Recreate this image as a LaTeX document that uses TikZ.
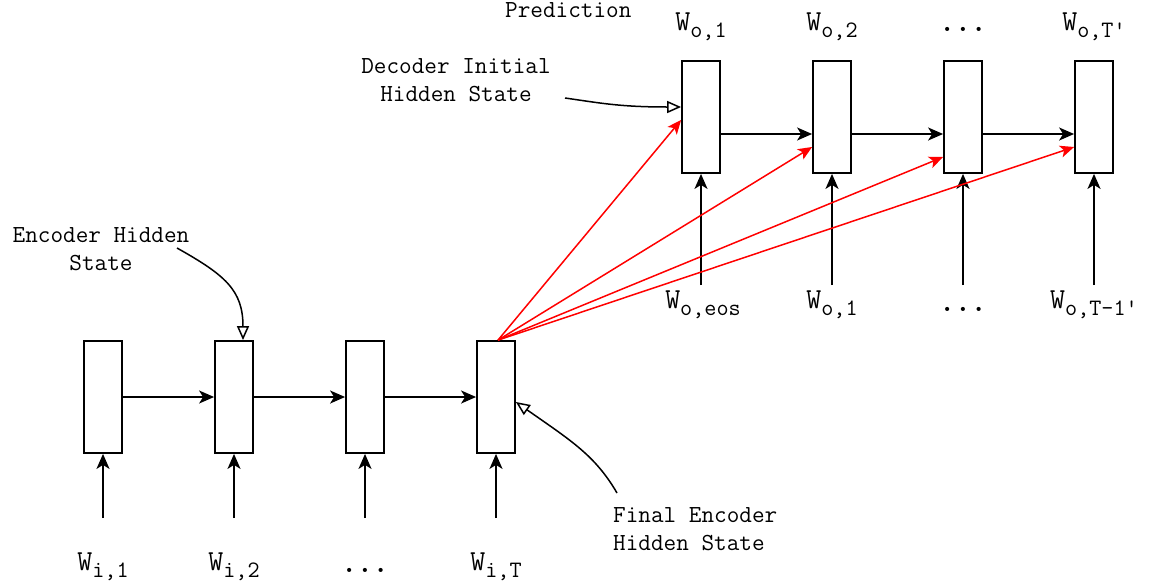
\documentclass[tikz,border=0pt]{standalone}
\usetikzlibrary{arrows.meta}
\newcommand\Wlab[1]{{\fontsize{29}{30}\selectfont W}\raisebox{-7pt}{\fontsize{23.5}{24}\selectfont #1}}
\begin{document}
\begin{tikzpicture}[x=1pt,y=-1pt, font=\ttfamily,
 cell/.style={draw, line width=1.8pt, minimum width=38pt, minimum height=112pt, inner sep=0pt, fill=white},
 flow/.style={line width=1.8pt, -{Stealth[length=15pt,width=13pt,inset=4pt]}},
 attn/.style={red, line width=1.5pt, -{Stealth[length=14pt,width=12pt,inset=3.5pt]}},
 note/.style={line width=1.5pt, -{Triangle[open,length=14pt,width=12pt]}},
 notetext/.style={font=\ttfamily\fontsize{24.5}{28}\selectfont, align=center, inner sep=0pt},
 lab/.style={inner sep=0pt, anchor=base},
 dotlab/.style={font=\ttfamily\bfseries\fontsize{30}{30}\selectfont, inner sep=0pt, anchor=base}]
\useasboundingbox (0,0) rectangle (1167,587);
\fill[white] (0,0) rectangle (1167,587);

% encoder cells
\node[cell] (e1) at (103,397) {};
\node[cell] (e2) at (234,397) {};
\node[cell] (e3) at (365,397) {};
\node[cell] (e4) at (496,397) {};
% decoder cells
\node[cell] (d1) at (701,117) {};
\node[cell] (d2) at (832,117) {};
\node[cell] (d3) at (963,117) {};
\node[cell] (d4) at (1094,117) {};

% encoder inputs
\coordinate (ei1) at (103,518);
\coordinate (ei2) at (234,518);
\coordinate (ei3) at (365,518);
\coordinate (ei4) at (496,518);
\node[lab] (li1) at (103,570) {\Wlab{i,1}};
\node[lab] (li2) at (234,570) {\Wlab{i,2}};
\node[dotlab] (li3) at (365,572) {...};
\node[lab] (li4) at (496,570) {\Wlab{i,T}};
% decoder inputs
\coordinate (di1) at (701,285);
\coordinate (di2) at (832,285);
\coordinate (di3) at (963,285);
\coordinate (di4) at (1094,285);
\node[lab] (ld1) at (703,308) {\Wlab{o,eos}};
\node[lab] (ld2) at (832,308) {\Wlab{o,1}};
\node[dotlab] (ld3) at (963,311) {...};
\node[lab] (ld4) at (1094,308) {\Wlab{o,T-1\textquotesingle}};
% outputs
\node[lab] (lo1) at (701,30) {\Wlab{o,1}};
\node[lab] (lo2) at (832,30) {\Wlab{o,2}};
\node[dotlab] (lo3) at (963,31) {...};
\node[lab] (lo4) at (1094,30) {\Wlab{o,T\textquotesingle}};

\foreach \i in {1,...,4} {
  \draw[flow] (ei\i) -- (e\i.south);
  \draw[flow] (di\i) -- (d\i.south);
}
% recurrences
\draw[flow] (e1.east) -- (e2.west);
\draw[flow] (e2.east) -- (e3.west);
\draw[flow] (e3.east) -- (e4.west);
\draw[flow] ([yshift=-17pt]d1.east) -- ([yshift=-17pt]d2.west);
\draw[flow] ([yshift=-17pt]d2.east) -- ([yshift=-17pt]d3.west);
\draw[flow] ([yshift=-17pt]d3.east) -- ([yshift=-17pt]d4.west);

% context to decoder
\coordinate (ctx) at ([xshift=2pt]e4.north);
\draw[attn] (ctx) -- ([yshift=-3pt]d1.west);
\draw[attn] (ctx) -- ([yshift=-30pt]d2.west);
\draw[attn] (ctx) -- ([yshift=-40pt]d3.west);
\draw[attn] (ctx) -- ([yshift=-30pt]d4.west);

% annotations
\node[notetext, anchor=base west] (pred) at (505,17) {Prediction};
\node[notetext, anchor=base] (dec) at (456,101) {Decoder Initial\\Hidden State};
\node[notetext, anchor=base] (enc) at (101,270) {Encoder Hidden\\State};
\node[notetext, align=left, anchor=base west] (fin) at (613,550) {Final Encoder\\Hidden State};

\coordinate (decs) at (565,98);
\coordinate (encs) at (177,248);
\coordinate (fins) at (617,493);
\draw[note] (decs) .. controls (600,103) and (620,107) .. ([yshift=10pt]d1.west);
\draw[note] (encs) .. controls (225,275) and (243,290) .. ([xshift=9pt]e2.north);
\draw[note] (fins) .. controls (595,455) and (570,440) .. ([yshift=-5pt]e4.east);
\end{tikzpicture}
\end{document}
